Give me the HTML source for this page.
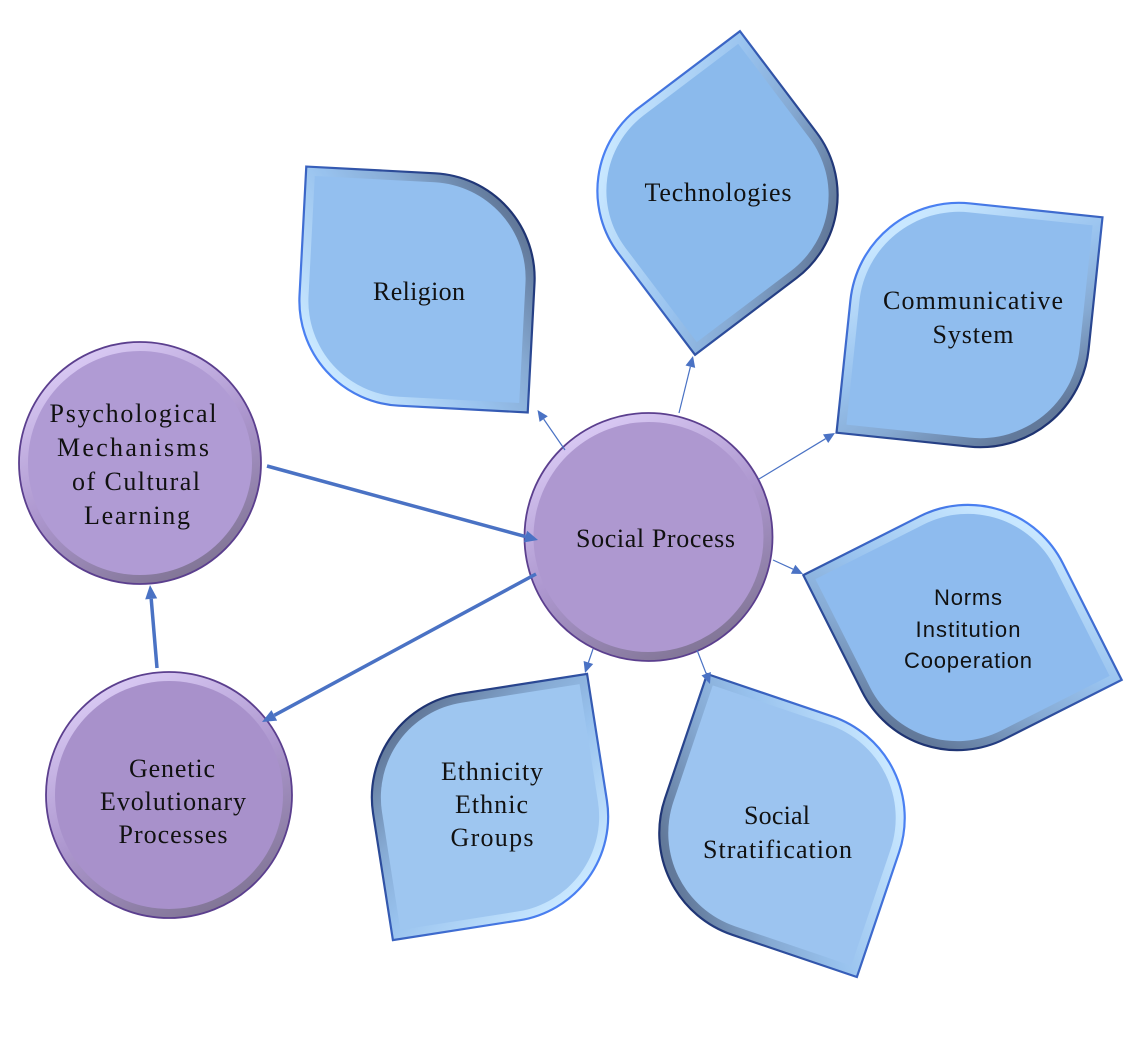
<!DOCTYPE html>
<html><head><meta charset="utf-8">
<style>
html,body{margin:0;padding:0;background:#ffffff;}
svg{display:block;}
text{font-family:"Liberation Serif","DejaVu Serif",serif;font-size:26px;fill:#111111;}
text.sans{font-family:"Liberation Sans","DejaVu Sans",sans-serif;font-size:22px;}
</style></head><body>
<svg width="1148" height="1048" viewBox="0 0 1148 1048" xmlns="http://www.w3.org/2000/svg">
<defs>
  <linearGradient id="bA" gradientUnits="userSpaceOnUse" x1="-94" y1="71" x2="94" y2="-71">
    <stop offset="0" stop-color="#c8e7ff"/>
    <stop offset="0.45" stop-color="#98c2ee"/>
    <stop offset="0.7" stop-color="#86aad3"/>
    <stop offset="1" stop-color="#62799a"/>
  </linearGradient>
  <linearGradient id="bB" gradientUnits="userSpaceOnUse" x1="94" y1="-71" x2="-94" y2="71">
    <stop offset="0" stop-color="#c8e7ff"/>
    <stop offset="0.45" stop-color="#98c2ee"/>
    <stop offset="0.7" stop-color="#86aad3"/>
    <stop offset="1" stop-color="#62799a"/>
  </linearGradient>
  <linearGradient id="sA" gradientUnits="userSpaceOnUse" x1="-94" y1="71" x2="94" y2="-71">
    <stop offset="0" stop-color="#4a80f2"/>
    <stop offset="1" stop-color="#1f3472"/>
  </linearGradient>
  <linearGradient id="sB" gradientUnits="userSpaceOnUse" x1="94" y1="-71" x2="-94" y2="71">
    <stop offset="0" stop-color="#4a80f2"/>
    <stop offset="1" stop-color="#1f3472"/>
  </linearGradient>
  <linearGradient id="cb" x1="0.25" y1="0" x2="0.75" y2="1">
    <stop offset="0" stop-color="#ddcef7"/>
    <stop offset="0.5" stop-color="#ad97cf"/>
    <stop offset="1" stop-color="#7d7290"/>
  </linearGradient>
</defs>

<!-- Religion -->
<g transform="translate(417,289.5) rotate(3)">
  <path d="M-117,-117 L12,-117 A105,105 0 0 1 117,-12 L117,117 L-12,117 A105,105 0 0 1 -117,12 Z" fill="url(#bA)"/>
  <path d="M-108,-108 L12,-108 A96,96 0 0 1 108,-12 L108,108 L-12,108 A96,96 0 0 1 -108,12 Z" fill="#93bfef"/>
  <path d="M-117,-117 L12,-117 A105,105 0 0 1 117,-12 L117,117 L-12,117 A105,105 0 0 1 -117,12 Z" fill="none" stroke="url(#sA)" stroke-width="2.2"/>
</g>

<!-- Technologies -->
<g transform="translate(717.5,193) rotate(52.9)">
  <path d="M-115.5,-115.5 L11.5,-115.5 A104,104 0 0 1 115.5,-11.5 L115.5,115.5 L-11.5,115.5 A104,104 0 0 1 -115.5,11.5 Z" fill="url(#bA)"/>
  <path d="M-106.5,-106.5 L11.5,-106.5 A95,95 0 0 1 106.5,-11.5 L106.5,106.5 L-11.5,106.5 A95,95 0 0 1 -106.5,11.5 Z" fill="#8bbaec"/>
  <path d="M-115.5,-115.5 L11.5,-115.5 A104,104 0 0 1 115.5,-11.5 L115.5,115.5 L-11.5,115.5 A104,104 0 0 1 -115.5,11.5 Z" fill="none" stroke="url(#sA)" stroke-width="2.2"/>
</g>

<!-- Communicative System -->
<g transform="translate(969.5,325) rotate(96)">
  <path d="M-121,-121 L12,-121 A109,109 0 0 1 121,-12 L121,121 L-12,121 A109,109 0 0 1 -121,12 Z" fill="url(#bA)"/>
  <path d="M-112,-112 L12,-112 A100,100 0 0 1 112,-12 L112,112 L-12,112 A100,100 0 0 1 -112,12 Z" fill="#90bdee"/>
  <path d="M-121,-121 L12,-121 A109,109 0 0 1 121,-12 L121,121 L-12,121 A109,109 0 0 1 -121,12 Z" fill="none" stroke="url(#sA)" stroke-width="2.2"/>
</g>

<!-- Norms -->
<g transform="translate(962.5,627.5) rotate(-26.8)">
  <path d="M-118.5,-118.5 L12,-118.5 A106.5,106.5 0 0 1 118.5,-12 L118.5,118.5 L-12,118.5 A106.5,106.5 0 0 1 -118.5,12 Z" fill="url(#bB)"/>
  <path d="M-109.5,-109.5 L12,-109.5 A97.5,97.5 0 0 1 109.5,-12 L109.5,109.5 L-12,109.5 A97.5,97.5 0 0 1 -109.5,12 Z" fill="#8ebbee"/>
  <path d="M-118.5,-118.5 L12,-118.5 A106.5,106.5 0 0 1 118.5,-12 L118.5,118.5 L-12,118.5 A106.5,106.5 0 0 1 -118.5,12 Z" fill="none" stroke="url(#sB)" stroke-width="2.2"/>
</g>

<!-- Social Stratification -->
<g transform="translate(782,825.5) rotate(18.7)">
  <path d="M-119.5,-119.5 L12,-119.5 A107.5,107.5 0 0 1 119.5,-12 L119.5,119.5 L-12,119.5 A107.5,107.5 0 0 1 -119.5,12 Z" fill="url(#bB)"/>
  <path d="M-110.5,-110.5 L12,-110.5 A98.5,98.5 0 0 1 110.5,-12 L110.5,110.5 L-12,110.5 A98.5,98.5 0 0 1 -110.5,12 Z" fill="#9cc4f0"/>
  <path d="M-119.5,-119.5 L12,-119.5 A107.5,107.5 0 0 1 119.5,-12 L119.5,119.5 L-12,119.5 A107.5,107.5 0 0 1 -119.5,12 Z" fill="none" stroke="url(#sB)" stroke-width="2.2"/>
</g>

<!-- Ethnicity -->
<g transform="translate(490,807) rotate(81.1)">
  <path d="M-116.5,-116.5 L11.5,-116.5 A105,105 0 0 1 116.5,-11.5 L116.5,116.5 L-11.5,116.5 A105,105 0 0 1 -116.5,11.5 Z" fill="url(#bB)"/>
  <path d="M-107.5,-107.5 L11.5,-107.5 A96,96 0 0 1 107.5,-11.5 L107.5,107.5 L-11.5,107.5 A96,96 0 0 1 -107.5,11.5 Z" fill="#9ec6f0"/>
  <path d="M-116.5,-116.5 L11.5,-116.5 A105,105 0 0 1 116.5,-11.5 L116.5,116.5 L-11.5,116.5 A105,105 0 0 1 -116.5,11.5 Z" fill="none" stroke="url(#sB)" stroke-width="2.2"/>
</g>

<!-- Circles -->
<circle cx="140" cy="463" r="121" fill="url(#cb)" stroke="#5b3f8e" stroke-width="1.8"/>
<circle cx="140" cy="463" r="112" fill="#b09bd4"/>

<circle cx="648.5" cy="537" r="124" fill="url(#cb)" stroke="#5b3f8e" stroke-width="1.8"/>
<circle cx="648.5" cy="537" r="115" fill="#ae98d0"/>

<circle cx="169" cy="795" r="123" fill="url(#cb)" stroke="#5b3f8e" stroke-width="1.8"/>
<circle cx="169" cy="795" r="114" fill="#a891cb"/>

<!-- Thick arrows -->
<g stroke="#4a72c4" stroke-width="3.5" fill="none">
  <line x1="267" y1="466" x2="525.5" y2="536.6"/>
  <line x1="536" y1="574" x2="274.3" y2="715.3"/>
  <line x1="157" y1="668" x2="151.2" y2="598.9"/>
</g>
<g fill="#4a72c4">
  <polygon points="538,540 523.9,542.4 527.1,530.8"/>
  <polygon points="262,722 271.45,710.07 277.15,720.63"/>
  <polygon points="150,585 157.2,598.4 145.2,599.4"/>
</g>

<!-- Thin arrows -->
<g stroke="#4a72c4" stroke-width="1.2" fill="none">
  <line x1="565" y1="450" x2="543.7" y2="419.1"/>
  <line x1="679" y1="413" x2="690.4" y2="366.7"/>
  <line x1="759" y1="479" x2="825.6" y2="438.7"/>
  <line x1="773" y1="560" x2="793.1" y2="569.2"/>
  <line x1="593" y1="649" x2="588.4" y2="662.5"/>
  <line x1="697" y1="650" x2="706.2" y2="673.7"/>
</g>
<g fill="#4a72c4">
  <polygon points="537.5,410 547.8,416.3 539.6,421.9"/>
  <polygon points="693,356 695.2,367.9 685.5,365.5"/>
  <polygon points="835,433 828.2,443.0 823.0,434.4"/>
  <polygon points="803,574 790.9,573.7 795.3,564.7"/>
  <polygon points="585,673 583.6,661.0 593.2,664.0"/>
  <polygon points="710,684 701.5,675.4 710.9,672.0"/>
</g>

<!-- Labels -->
<g text-anchor="middle">
  <text x="419" y="300" textLength="92" lengthAdjust="spacing">Religion</text>
  <text x="718" y="201" textLength="147" lengthAdjust="spacing">Technologies</text>
  <text x="973" y="309" textLength="180" lengthAdjust="spacing">Communicative</text>
  <text x="973" y="343" textLength="81" lengthAdjust="spacing">System</text>
  <text class="sans" x="968" y="605" textLength="68" lengthAdjust="spacing">Norms</text>
  <text class="sans" x="968" y="637" textLength="105" lengthAdjust="spacing">Institution</text>
  <text class="sans" x="968" y="668" textLength="128" lengthAdjust="spacing">Cooperation</text>
  <text x="777" y="824" textLength="66" lengthAdjust="spacing">Social</text>
  <text x="777.5" y="858" textLength="149" lengthAdjust="spacing">Stratification</text>
  <text x="492" y="780" textLength="102" lengthAdjust="spacing">Ethnicity</text>
  <text x="491.5" y="813" textLength="73" lengthAdjust="spacing">Ethnic</text>
  <text x="492" y="846" textLength="83" lengthAdjust="spacing">Groups</text>
  <text x="133" y="422" textLength="167" lengthAdjust="spacing">Psychological</text>
  <text x="133" y="456" textLength="152" lengthAdjust="spacing">Mechanisms</text>
  <text x="136" y="490" textLength="128" lengthAdjust="spacing">of Cultural</text>
  <text x="137" y="524" textLength="106" lengthAdjust="spacing">Learning</text>
  <text x="172" y="777" textLength="86" lengthAdjust="spacing">Genetic</text>
  <text x="173" y="810" textLength="146" lengthAdjust="spacing">Evolutionary</text>
  <text x="173" y="843" textLength="109" lengthAdjust="spacing">Processes</text>
  <text x="655.5" y="547" textLength="159" lengthAdjust="spacing">Social Process</text>
</g>
</svg>
</body></html>
